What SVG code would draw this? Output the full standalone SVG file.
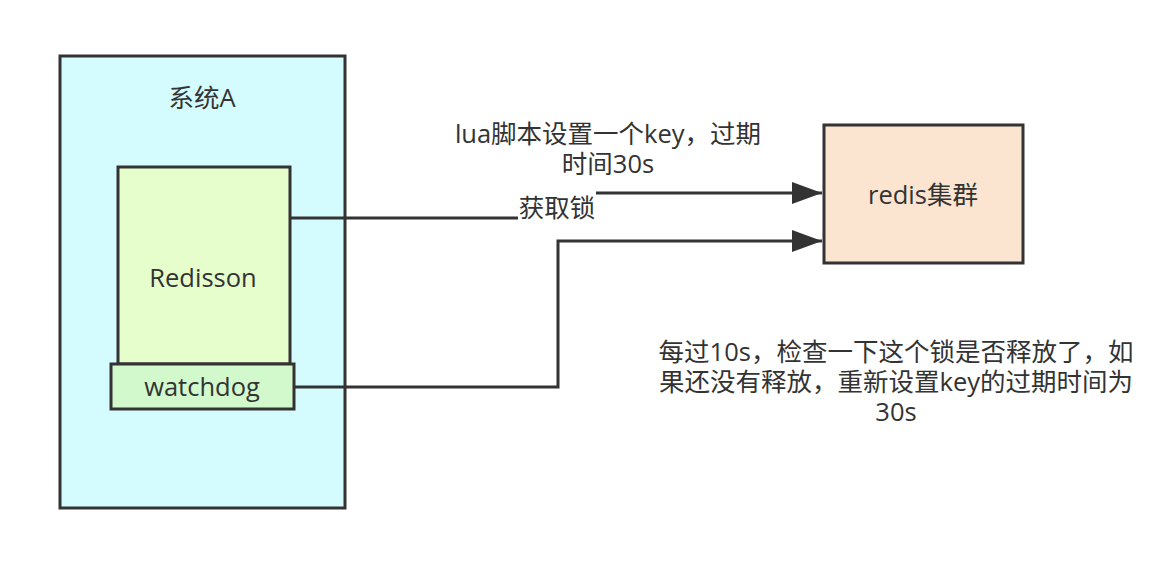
<svg xmlns="http://www.w3.org/2000/svg" width="1174" height="570" viewBox="0 0 1174 570">
  <defs>
    <marker id="arr" markerUnits="userSpaceOnUse" markerWidth="32" markerHeight="22" refX="30" refY="11" orient="auto">
      <path d="M0,0 L30,11 L0,22 Z" fill="#333"/>
    </marker>
    <style>
      .box { stroke: #333; stroke-width: 3; }
      .t { font-family: "Open Sans", "Noto Sans CJK SC", sans-serif; font-size: 25.5px; fill: #333; text-anchor: middle; }
      .edge { fill: none; stroke: #333; stroke-width: 3; }
    </style>
  </defs>
  <rect width="1174" height="570" fill="#fff"/>

  <g id="systemA">
    <rect class="box" x="60" y="56" width="285" height="452" fill="#d4fcff"/>
    <text class="t" x="202" y="107">系统A</text>
  </g>

  <g id="redisson">
    <rect class="box" x="118" y="167" width="172" height="197" fill="#e6fdcc"/>
    <text class="t" x="203" y="287">Redisson</text>
  </g>

  <g id="watchdog">
    <rect class="box" x="111" y="364" width="183" height="45" fill="#d2f9cc"/>
    <text class="t" x="202" y="396">watchdog</text>
  </g>

  <g id="redis">
    <rect class="box" x="824" y="125" width="199" height="138" fill="#fbe5d0"/>
    <text class="t" x="923" y="204">redis集群</text>
  </g>

  <g id="connectors">
    <path class="edge" d="M290,218 H556 V193 H822" marker-end="url(#arr)"/>
    <path class="edge" d="M294,387 H558 V241 H822" marker-end="url(#arr)"/>
  </g>

  <g id="labels">
    <rect x="518" y="190" width="78" height="31" fill="#fff"/>
    <text class="t" x="557" y="217">获取锁</text>
    <text class="t" x="608" y="143">lua脚本设置一个key，过期<tspan x="608" dy="30">时间30s</tspan></text>
    <text class="t" x="896" y="361">每过10s，检查一下这个锁是否释放了，如<tspan x="896" dy="30">果还没有释放，重新设置key的过期时间为</tspan><tspan x="896" dy="30">30s</tspan></text>
  </g>
</svg>
